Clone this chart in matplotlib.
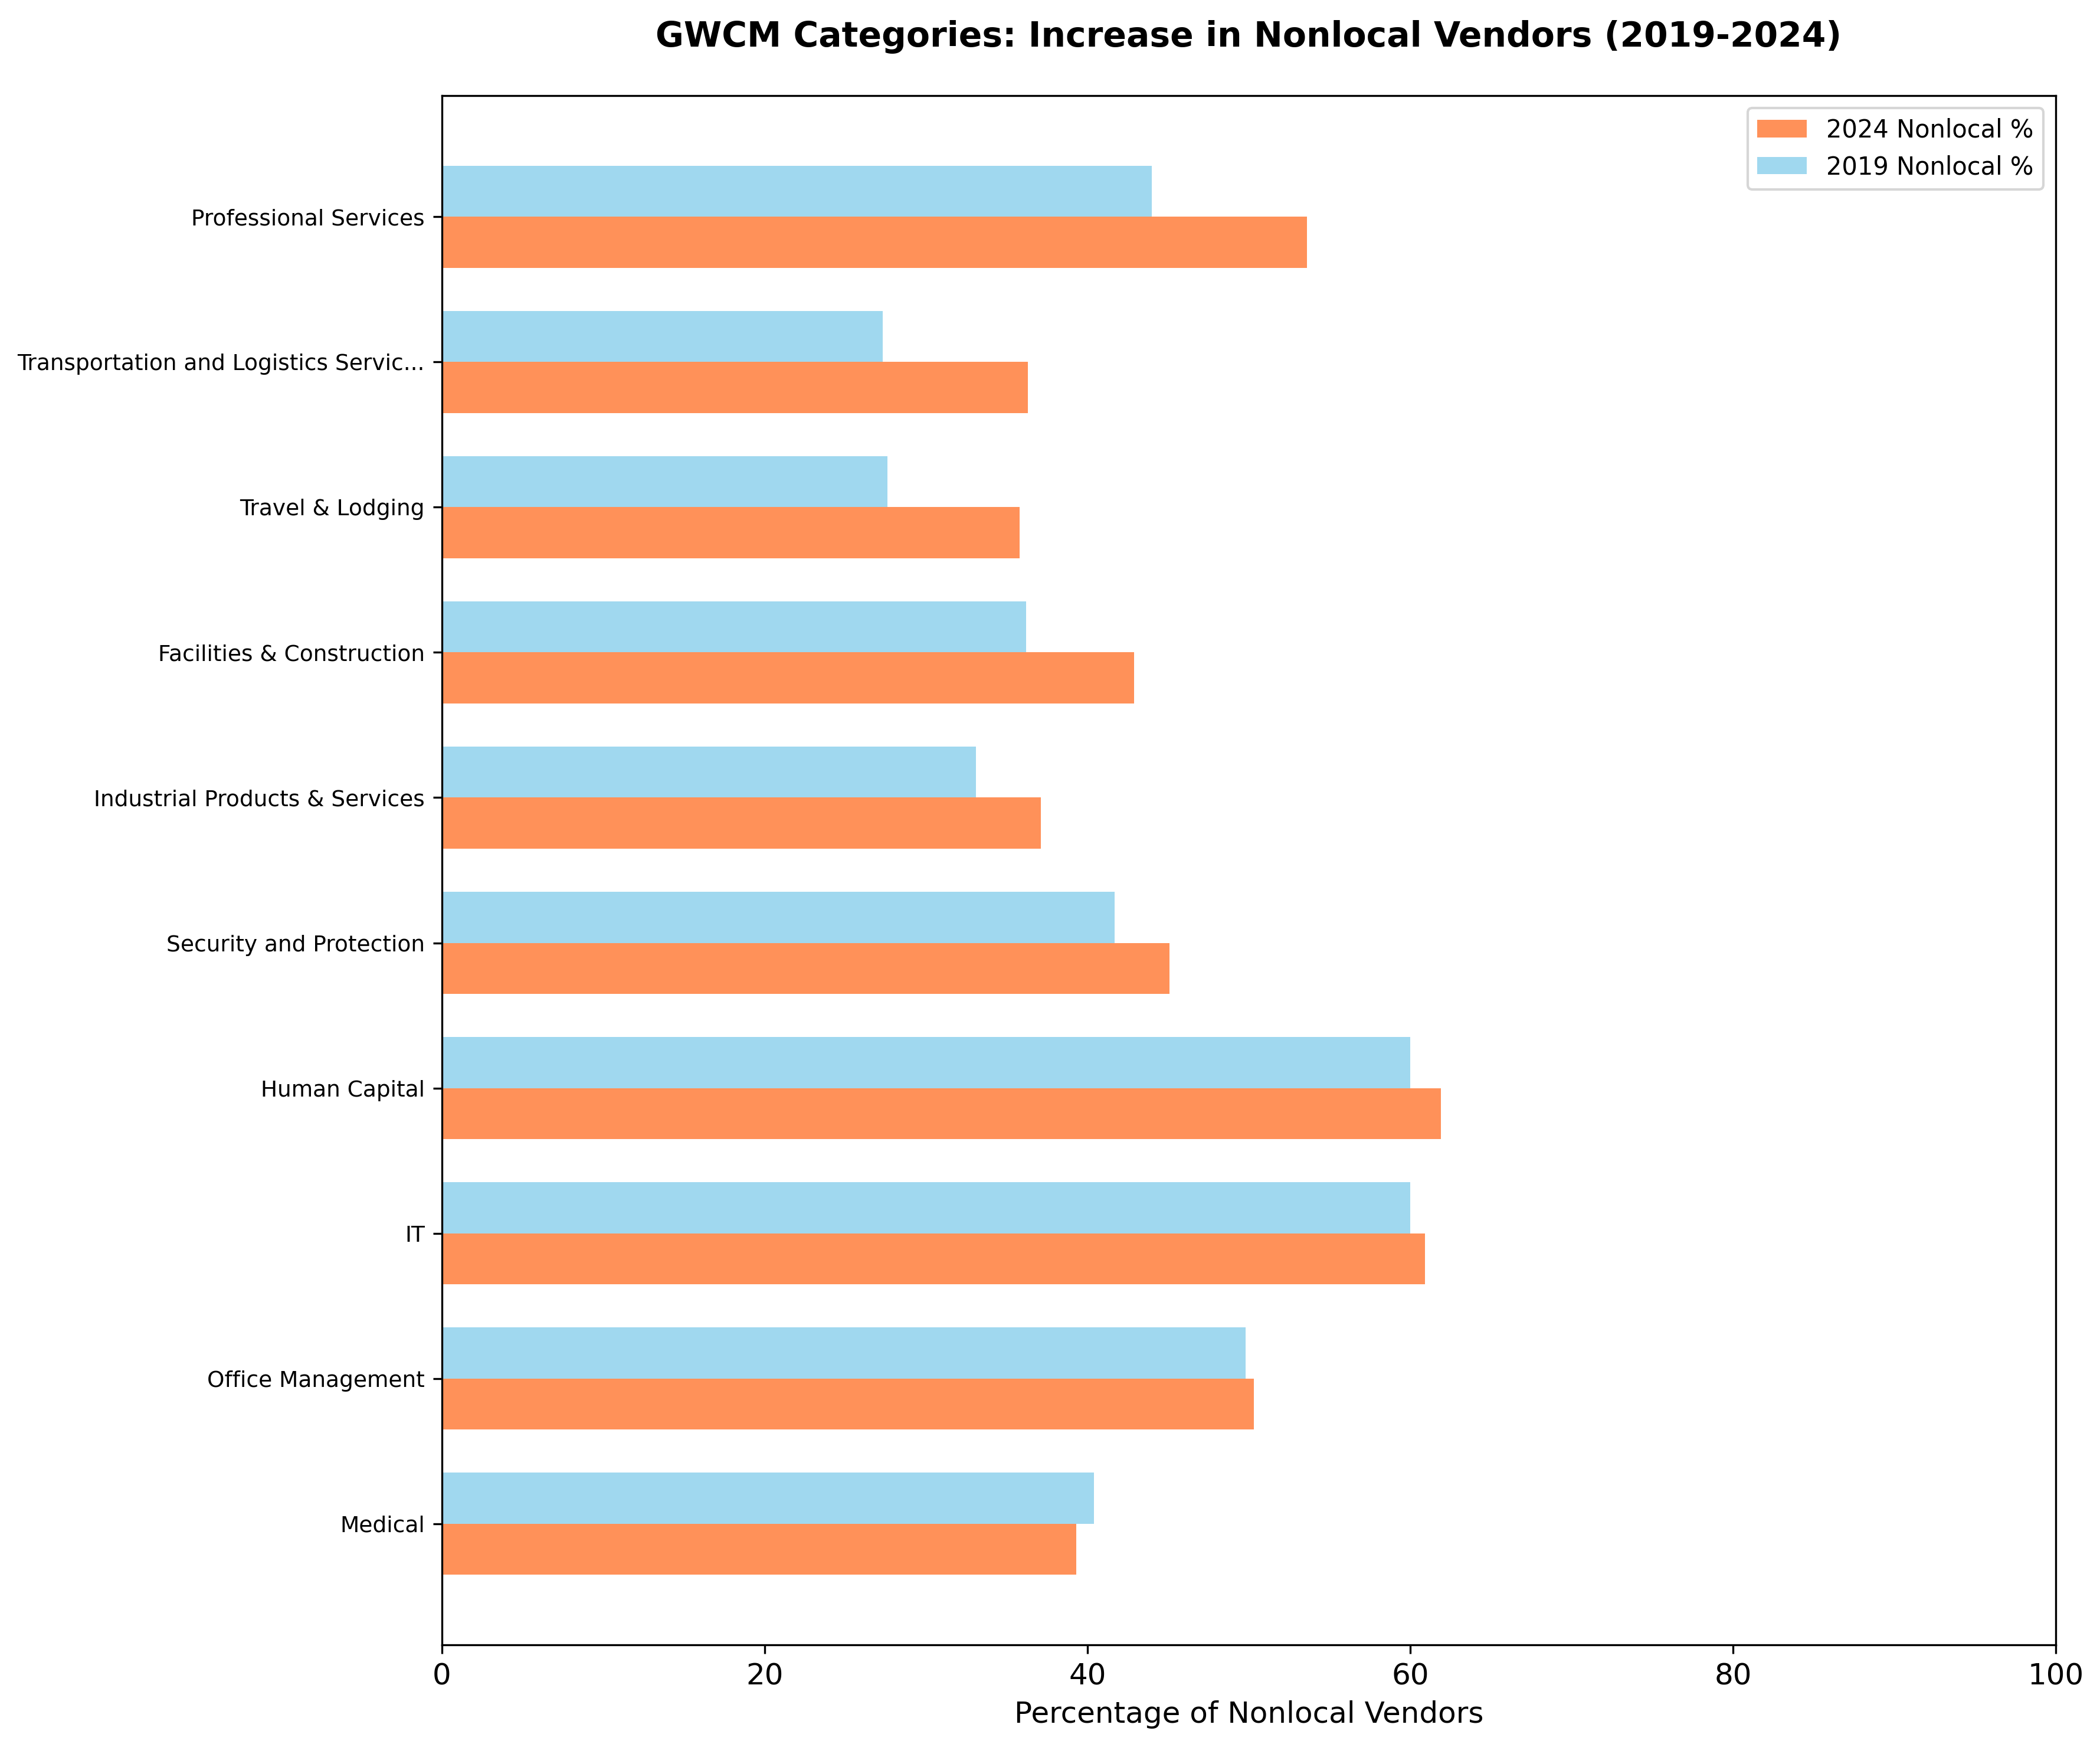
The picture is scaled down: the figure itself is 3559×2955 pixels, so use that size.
import numpy as np
import matplotlib
matplotlib.use('Agg')
import matplotlib.pyplot as plt

#GWCM categories, bottom to top as drawn
categories = ['Medical', 'Office Management', 'IT', 'Human Capital',
              'Security and Protection', 'Industrial Products & Services',
              'Facilities & Construction', 'Travel & Lodging',
              'Transportation and Logistics Services', 'Professional Services']
pct_2019 = [40.4, 49.8, 60.0, 60.0, 41.7, 33.1, 36.2, 27.6, 27.3, 44.0]
pct_2024 = [39.3, 50.3, 60.9, 61.9, 45.1, 37.1, 42.9, 35.8, 36.3, 53.6]


def shorten(name, n=35):
    """Truncate long category names for the y tick labels"""
    return name if len(name) <= n else name[:n] + '...'


y = np.arange(len(categories))
h = 0.35

fig = plt.figure(figsize=(3559/300, 2955/300), dpi=300)
ax = fig.add_axes([749/3559, 1 - 2787/2955, (3484 - 749)/3559, (2787 - 162)/2955])

ax.barh(y - h/2, pct_2024, h, color='#FF9159', label='2024 Nonlocal %')
ax.barh(y + h/2, pct_2019, h, color='#A0D8EF', label='2019 Nonlocal %')

ax.set_yticks(y)
ax.set_yticklabels([shorten(c) for c in categories], fontsize=9)
ax.set_xlim(0, 100)
ax.tick_params(axis='x', labelsize=12)
ax.set_xlabel('Percentage of Nonlocal Vendors', fontsize=12)
ax.set_title('GWCM Categories: Increase in Nonlocal Vendors (2019-2024)',
             fontsize=14, fontweight='bold', pad=20)
ax.legend(loc='upper right', fontsize=10)

fig.savefig('out.png', dpi=300)
